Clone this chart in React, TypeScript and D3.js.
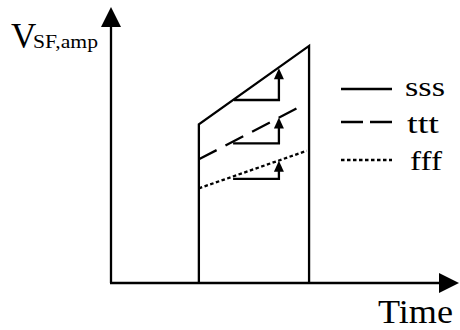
import * as d3 from "d3";

// 时间轴与幅值轴的范围
const timeDomain = [0, 12];
const ampDomain = [0, 10];

// 脉冲的起止时刻
const pulseEdges = [3.03, 6.83];

// 三条曲线 (名字 / 端点)
const seriesNames = ["sss", "ttt", "fff"];
const sssLine: [number, number][] = [[3.03, 5.75], [6.83, 8.59]];
const tttLine: [number, number][] = [[3.03, 4.48], [6.45, 6.35]];
const fffLine: [number, number][] = [[3.03, 3.43], [6.75, 4.79]];

// 台阶箭头
const stepStart = [4.24, 4.21, 4.21];
const stepEnd = [5.79, 5.79, 5.79];
const stepLow = [6.63, 5.06, 3.77];
const stepHigh = [7.78, 6.0, 4.43];

const W = 460;
const H = 330;
const font = "'Liberation Serif', 'Times New Roman', serif";
const sw = 2.3;

const dashes = ["none", "20 10", "3.5 2.5"];
const legendDashes = ["none", "22 7", "3.5 2.5"];

export default function App() {
  const x = d3.scaleLinear().domain(timeDomain).range([111, 459]);
  const y = d3.scaleLinear().domain(ampDomain).range([283, 7]);

  const line = d3
    .line<[number, number]>()
    .x((d) => x(d[0]))
    .y((d) => y(d[1]));

  // 脉冲外框 = 两条竖边 + 实线顶边
  const outline: [number, number][] = [
    [pulseEdges[0], 0],
    sssLine[0],
    sssLine[1],
    [pulseEdges[1], 0],
  ];

  const x0 = x(timeDomain[0]);
  const y0 = y(ampDomain[0]);
  const xEnd = x(timeDomain[1]);
  const yEnd = y(ampDomain[1]);
  const ah = 20; // 坐标轴箭头长度
  const aw = 10;

  const series = [sssLine, tttLine, fffLine];
  const legendY = [89, 122, 160];
  const legendTextY = [96, 132.5, 170];
  const legendTextX = [405, 407, 410];
  const legendTextW = [40, 32, 32];

  return (
    <svg
      width={W}
      height={H}
      style={{ position: "absolute", left: 0, top: 0, background: "#fff" }}
    >
      {/* 坐标轴 */}
      <line x1={x0} y1={y0} x2={x0} y2={yEnd + ah - 2} stroke="#000" strokeWidth={sw} />
      <path d={`M${x0},${yEnd} L${x0 - aw},${yEnd + ah} L${x0 + aw},${yEnd + ah} Z`} fill="#000" />
      <line x1={x0 - 1} y1={y0} x2={xEnd - ah + 2} y2={y0} stroke="#000" strokeWidth={sw} />
      <path d={`M${xEnd},${y0} L${xEnd - ah},${y0 - aw} L${xEnd - ah},${y0 + aw} Z`} fill="#000" />

      {/* 脉冲外框 */}
      <path d={line(outline) ?? ""} fill="none" stroke="#000" strokeWidth={sw} />
      {series.slice(1).map((s, i) => (
        <path
          key={i}
          d={line(s) ?? ""}
          fill="none"
          stroke="#000"
          strokeWidth={sw}
          strokeDasharray={dashes[i + 1]}
        />
      ))}

      {/* 台阶箭头 */}
      {stepStart.map((s, i) => {
        const xa = x(s);
        const xb = x(stepEnd[i]);
        const yl = y(stepLow[i]);
        const yh = y(stepHigh[i]);
        return (
          <g key={i}>
            <path
              d={`M${xa},${yl} L${xb},${yl} L${xb},${yh + 8}`}
              fill="none"
              stroke="#000"
              strokeWidth={sw}
            />
            <path d={`M${xb},${yh} L${xb - 5},${yh + 11} L${xb + 5},${yh + 11} Z`} fill="#000" />
          </g>
        );
      })}

      {/* 图例 */}
      {seriesNames.map((name, i) => (
        <g key={name}>
          <line
            x1={341}
            x2={392}
            y1={legendY[i]}
            y2={legendY[i]}
            stroke="#000"
            strokeWidth={sw}
            strokeDasharray={legendDashes[i]}
          />
          <text
            x={legendTextX[i]}
            y={legendTextY[i]}
            fontFamily={font}
            fontSize={28}
            textLength={legendTextW[i]}
            lengthAdjust="spacingAndGlyphs"
          >
            {name}
          </text>
        </g>
      ))}

      {/* 轴标题 */}
      <text x={11} y={48.3} fontFamily={font} fontSize={35}>
        V
      </text>
      <text
        x={33}
        y={48.3}
        fontFamily={font}
        fontSize={18}
        textLength={65}
        lengthAdjust="spacingAndGlyphs"
      >
        SF,amp
      </text>
      <text
        x={378}
        y={322.5}
        fontFamily={font}
        fontSize={33}
        textLength={75}
        lengthAdjust="spacingAndGlyphs"
      >
        Time
      </text>
    </svg>
  );
}
